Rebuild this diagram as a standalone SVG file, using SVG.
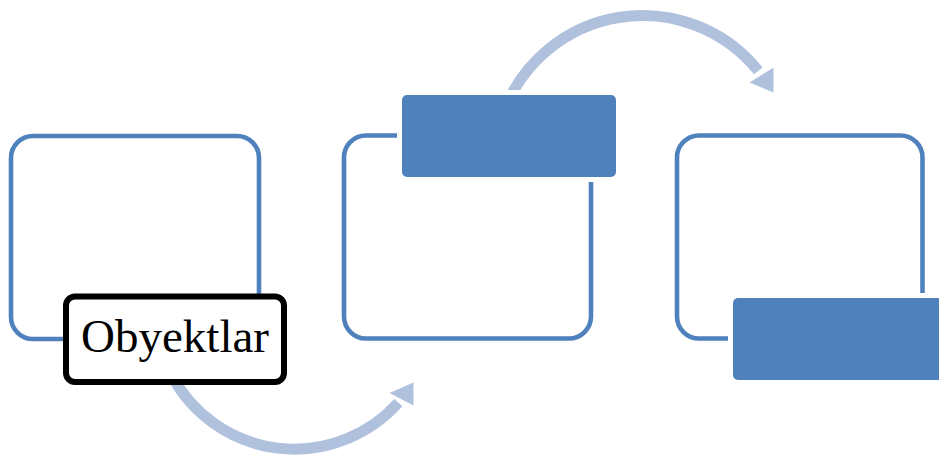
<svg xmlns="http://www.w3.org/2000/svg" width="939" height="455" viewBox="0 0 939 455">
  <style>
    .frame { fill: #FFFFFF; stroke: #4F81BD; stroke-width: 4.6; }
    .tag { fill: #4F81BD; stroke: #FFFFFF; stroke-width: 10; paint-order: stroke; }
    .tagtext { fill: #FFFFFF; stroke: #000000; stroke-width: 6; }
    .arc { fill: none; stroke: #B0C1DD; stroke-width: 11; }
    .head { fill: #B0C1DD; }
    .label { font-family: "Liberation Serif", "Times New Roman", serif; font-size: 47px; fill: #000000; }
  </style>
  <rect width="939" height="455" fill="#FFFFFF"/>
  <g id="connectors">
    <path class="arc" d="M 171.5 375.2 A 139.3 139.3 0 0 0 398.3 402.7"/>
    <polygon class="head" points="389.5,393 413.5,405.5 413.5,382.5"/>
    <path class="arc" d="M 503.3 113.1 A 148.3 148.3 0 0 1 758.3 70.9"/>
    <polygon class="head" points="749.5,82.5 773.5,67.5 773.5,92.5"/>
  </g>
  <g id="node1">
    <rect class="frame" x="11" y="136" width="248" height="203" rx="22"/>
    <rect class="tagtext" x="66" y="296.5" width="218" height="85.5" rx="9"/>
    <text class="label" x="175" y="352" text-anchor="middle">Obyektlar</text>
  </g>
  <g id="node2">
    <rect class="frame" x="344" y="135.5" width="247" height="203" rx="22"/>
    <rect class="tag" x="402" y="95" width="214" height="82" rx="5"/>
  </g>
  <g id="node3">
    <rect class="frame" x="677" y="135.5" width="245.5" height="203" rx="22"/>
    <rect class="tag" x="733" y="298" width="214" height="82" rx="5"/>
  </g>
</svg>
